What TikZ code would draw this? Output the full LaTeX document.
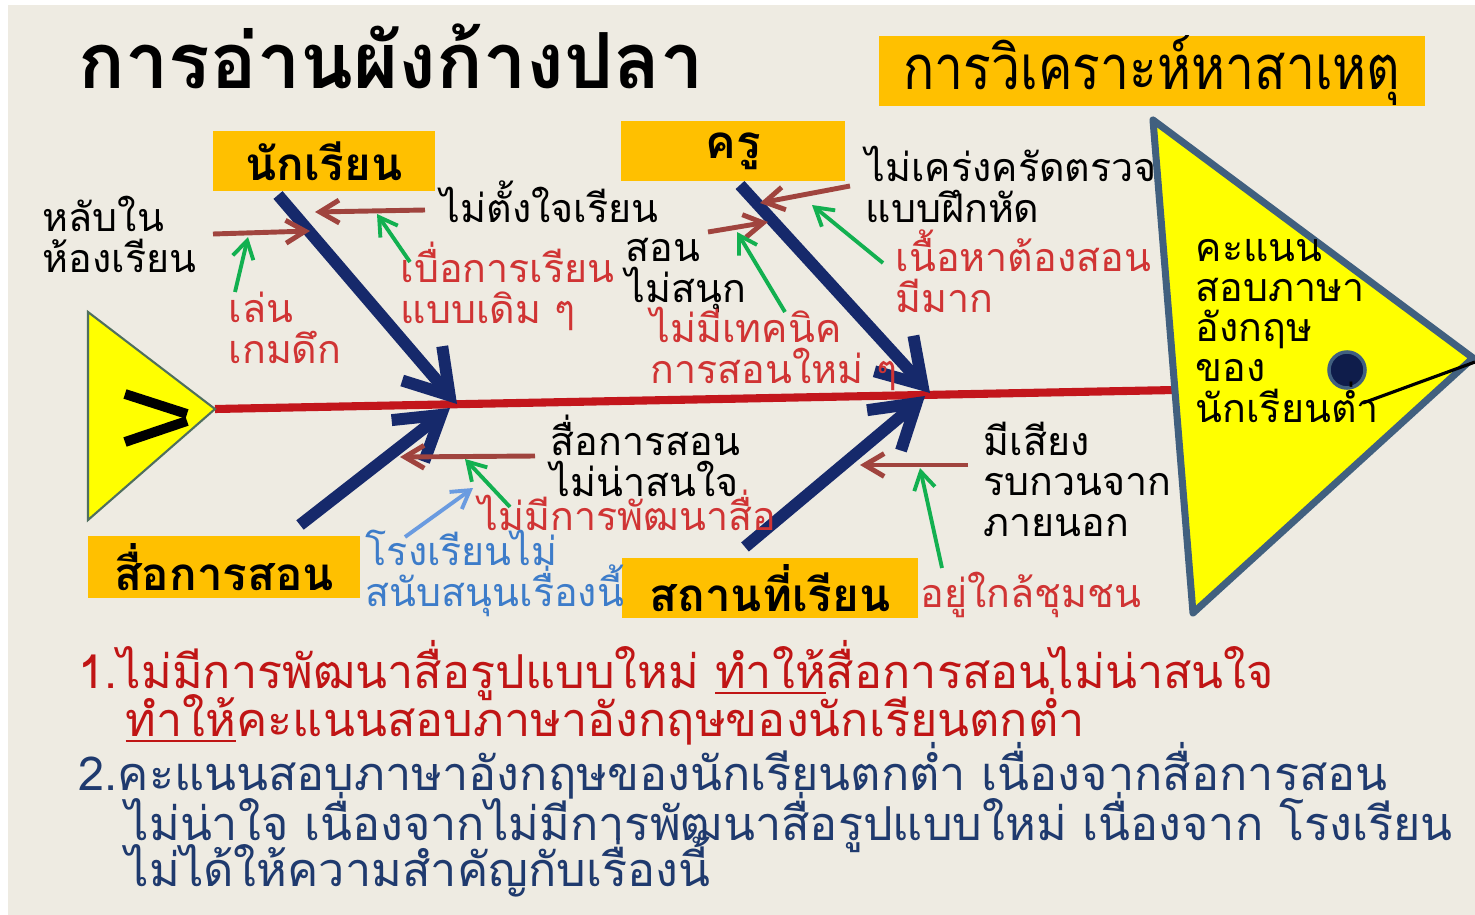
\documentclass[tikz,border=0pt]{standalone}
\usepackage{fontspec}
\newfontfamily\thai[Script=Thai]{Loma}
\newfontfamily\thaicond[Script=Thai,FakeStretch=0.84]{Loma}
\usetikzlibrary{arrows.meta}
\lineskiplimit=-20pt
\lineskip=0pt

\definecolor{bgbeige}{HTML}{EEEBE2}
\definecolor{boxorange}{HTML}{FFC000}
\definecolor{fishyellow}{HTML}{FFFF00}
\definecolor{tailedge}{HTML}{4F6F5F}
\definecolor{headedge}{HTML}{41607F}
\definecolor{spinered}{HTML}{C3161C}
\definecolor{bonenavy}{HTML}{16296B}
\definecolor{twigbrown}{HTML}{A0443E}
\definecolor{causegreen}{HTML}{12B050}
\definecolor{labelred}{HTML}{D03434}
\definecolor{labelblue}{HTML}{3D7CC9}
\definecolor{arrowblue}{HTML}{6A9BE0}
\definecolor{sumred}{HTML}{C01515}
\definecolor{sumnavy}{HTML}{1F3A6E}

\begin{document}
\begin{tikzpicture}
	[
	x=0.01cm, y=-0.01cm,
	catbox/.style = {fill=boxorange, inner sep=0pt, font=\thai\bfseries\fontsize{13}{15}\selectfont},
	bone/.style = {draw=bonenavy, line width=3.4pt, -{Straight Barb[length=12pt,width=15pt]}},
	twig/.style = {draw=twigbrown, line width=1.4pt, -{Straight Barb[length=5.5pt,width=6.5pt]}},
	cause/.style = {draw=causegreen, line width=1.1pt, -{Straight Barb[length=5pt,width=6pt]}},
	lbl/.style = {font=\thai\fontsize{11.2}{11.4}\selectfont, align=left, inner sep=0pt, anchor=base west},
	redlbl/.style = {lbl, text=labelred},
	sumline/.style = {anchor=base west, inner sep=0pt, font=\thai\fontsize{13.3}{15}\selectfont}
	]
	\useasboundingbox (0,0) rectangle (1475,915);
	\fill[white] (0,0) rectangle (1475,915);
	\fill[bgbeige] (8,5) rectangle (1475,915);

	% title and category boxes
	\node[anchor=base west, inner sep=0pt, font=\thai\bfseries\fontsize{22}{26}\selectfont] (title) at (78,88) {การอ่านผังก้างปลา};
	\node[fill=boxorange, inner sep=0pt, minimum width=5.45cm, minimum height=0.68cm, font=\thaicond\fontsize{17.5}{20}\selectfont] (analysis) at (1152,71) {การวิเคราะห์หาสาเหตุ};
	\node[catbox, minimum width=2.22cm, minimum height=0.6cm] (student) at (324,161) {นักเรียน};
	\node[catbox, minimum width=2.23cm, minimum height=0.6cm] (teacher) at (733,151) {ครู};
	\node[catbox, minimum width=2.71cm, minimum height=0.61cm] (media) at (224,567) {สื่อการสอน};
	\node[catbox, minimum width=2.96cm, minimum height=0.6cm] (place) at (770,588) {สถานที่เรียน};

	% fish body
	\coordinate (tailtop) at (88,312);
	\coordinate (tailtip) at (215,409);
	\coordinate (tailbot) at (88,520);
	\coordinate (headtop) at (1153,120);
	\coordinate (headtip) at (1473,358);
	\coordinate (headbot) at (1193,613);
	\coordinate (headleft) at (1175,390);
	\draw[spinered, line width=2.3pt] (tailtip) -- (headleft);
	\draw[fill=fishyellow, draw=tailedge, line width=0.6pt] (tailtop) -- (tailtip) -- (tailbot) -- cycle;
	\draw[line width=2.8pt] (125,394) -- (187,414);
	\draw[line width=2.8pt] (187,421) -- (125,442);
	\draw[fill=fishyellow, draw=headedge, line width=2pt, line join=round] (headtop) -- (headtip) -- (headbot) -- cycle;
	\node[circle, fill=bonenavy!70!black, draw=headedge, line width=1pt, minimum size=0.36cm, inner sep=0pt] (eye) at (1347,370) {};
	\coordinate (mouthin) at (1363,403);
	\coordinate (mouthout) at (1475,362);
	\draw[line width=0.9pt] (mouthin) -- (mouthout);
	\node[lbl] (score) at (1195,422) {คะแนน\\สอบภาษา\\อังกฤษ\\ของ\\นักเรียนต่ำ};

	% main bones
	\coordinate (stubone) at (278,195);
	\coordinate (teabone) at (740,185);
	\coordinate (medbone) at (300,525);
	\coordinate (plabone) at (745,547);
	\coordinate (jointA) at (457,404);
	\coordinate (jointB) at (930,393);
	\coordinate (jointC) at (450,408);
	\coordinate (jointD) at (925,396);
	\draw[bone] (stubone) -- (jointA);
	\draw[bone] (teabone) -- (jointB);
	\draw[bone] (medbone) -- (jointC);
	\draw[bone] (plabone) -- (jointD);

	% labels
	\node[lbl] (sleep) at (42,272) {หลับใน\\ห้องเรียน};
	\node[lbl] (notfocus) at (440,222) {ไม่ตั้งใจเรียน};
	\node[redlbl] (game) at (228,363) {เล่น\\เกมดึก};
	\node[redlbl] (bored) at (400,323) {เบื่อการเรียน\\แบบเดิม ๆ};
	\node[lbl] (notstrict) at (865,222) {ไม่เคร่งครัดตรวจ\\แบบฝึกหัด};
	\node[lbl] (notfun) at (625,302) {สอน\\ไม่สนุก};
	\node[redlbl] (notech) at (650,383) {ไม่มีเทคนิค\\การสอนใหม่ ๆ};
	\node[redlbl] (content) at (895,312) {เนื้อหาต้องสอน\\มีมาก};
	\node[lbl] (dull) at (550,496) {สื่อการสอน\\ไม่น่าสนใจ};
	\node[redlbl] (nodev) at (478,530) {ไม่มีการพัฒนาสื่อ};
	\node[lbl, text=labelblue] (nosupport) at (365,606) {โรงเรียนไม่\\สนับสนุนเรื่องนี้};
	\node[lbl] (noise) at (983,536) {มีเสียง\\รบกวนจาก\\ภายนอก};
	\node[redlbl] (community) at (920,607) {อยู่ใกล้ชุมชน};

	% small bones
	\coordinate (sleepA) at (213,234);
	\coordinate (sleepB) at (310,231);
	\coordinate (focusA) at (425,210);
	\coordinate (focusB) at (315,212);
	\coordinate (strictA) at (850,186);
	\coordinate (strictB) at (760,203);
	\coordinate (funA) at (708,232);
	\coordinate (funB) at (768,222);
	\coordinate (dullA) at (535,456);
	\coordinate (dullB) at (400,457);
	\coordinate (noiseA) at (968,465);
	\coordinate (noiseB) at (860,465);
	\draw[twig] (sleepA) -- (sleepB);
	\draw[twig] (focusA) -- (focusB);
	\draw[twig] (strictA) -- (strictB);
	\draw[twig] (funA) -- (funB);
	\draw[twig] (dullA) -- (dullB);
	\draw[twig] (noiseA) -- (noiseB);

	% causes
	\draw[cause] (235,292) -- (248,237);
	\draw[cause] (410,262) -- (377,214);
	\draw[cause] (785,312) -- (737,232);
	\draw[cause] (883,263) -- (812,205);
	\draw[cause] (510,507) -- (465,459);
	\draw[cause] (942,568) -- (920,468);
	\draw[draw=arrowblue, line width=1.1pt, -{Straight Barb[length=5pt,width=6pt]}] (405,537) -- (473,488);

	% summary
	\node[sumline, text=sumred] (sumA) at (78,688) {1.ไม่มีการพัฒนาสื่อรูปแบบใหม่ \underline{ทำให้}สื่อการสอนไม่น่าสนใจ};
	\node[sumline, text=sumred] (sumB) at (125,736) {\underline{ทำให้}คะแนนสอบภาษาอังกฤษของนักเรียนตกต่ำ};
	\node[sumline, text=sumnavy] (sumC) at (78,790) {2.คะแนนสอบภาษาอังกฤษของนักเรียนตกต่ำ เนื่องจากสื่อการสอน};
	\node[sumline, text=sumnavy] (sumD) at (125,840) {ไม่น่าใจ เนื่องจากไม่มีการพัฒนาสื่อรูปแบบใหม่ เนื่องจาก โรงเรียน};
	\node[sumline, text=sumnavy] (sumE) at (125,886) {ไม่ได้ให้ความสำคัญกับเรื่องนี้};
\end{tikzpicture}
\end{document}
